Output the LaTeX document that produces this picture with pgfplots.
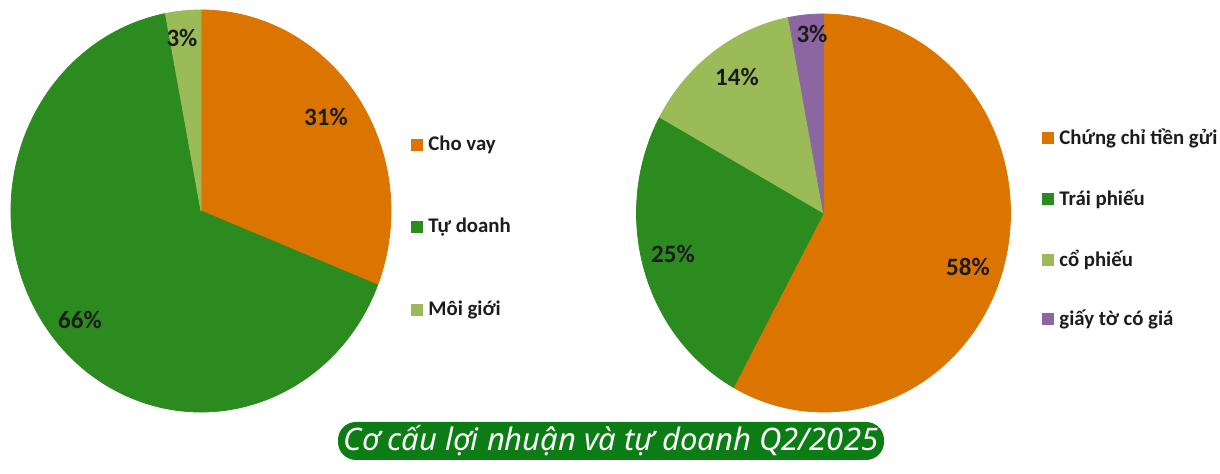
\documentclass[border=0pt]{standalone}
\usepackage{pgfplots}
\pgfplotsset{compat=1.18}
\usepackage{fontspec}
\setmainfont{Carlito}
\newfontfamily\capfont{Noto Sans}

\definecolor{cOr}{RGB}{220,117,0}
\definecolor{cGr}{RGB}{44,139,30}
\definecolor{cLg}{RGB}{155,187,89}
\definecolor{cPu}{RGB}{139,102,160}
\definecolor{capgreen}{RGB}{12,124,20}
\definecolor{txt}{RGB}{28,28,28}

% one point per slice, the wedge is drawn at the pie centre
\pgfplotsset{
  pie slices/.style={
    scatter, only marks, mark=text, text mark={},
    visualization depends on={value \thisrow{s}\as\wS},
    visualization depends on={value \thisrow{p}\as\wP},
    visualization depends on={value \thisrow{rx}\as\wRx},
    visualization depends on={value \thisrow{ry}\as\wRy},
    visualization depends on={value \thisrow{c}\as\wC},
    scatter/@pre marker code/.code={%
      \pgfmathsetmacro\aA{90-3.6*\wS}%
      \pgfmathsetmacro\aB{90-3.6*(\wS+\wP)}%
      \fill[\wC, overlay] (0pt,0pt) -- (\aA:\wRx pt and \wRy pt)
        arc[start angle=\aA, end angle=\aB, x radius=\wRx pt, y radius=\wRy pt] -- cycle;
    },
    scatter/@post marker code/.code={},
  },
  pct labels/.style={
    scatter, only marks, mark=text, text mark={},
    visualization depends on={value \thisrow{l}\as\wT},
    scatter/@pre marker code/.code={%
      \node[font=\bfseries\fontsize{12.5}{14}\selectfont, text=txt] at (0pt,0pt) {\wT\%};
    },
    scatter/@post marker code/.code={},
  },
  legend items/.style={
    scatter, only marks, mark=text, text mark={},
    visualization depends on={value \thisrow{c}\as\wC},
    visualization depends on={value \thisrow{t}\as\wT},
    scatter/@pre marker code/.code={%
      \fill[\wC] (-2.7pt,-2.7pt) rectangle (2.7pt,2.7pt);
      \node[anchor=west, inner sep=0pt, font=\bfseries\fontsize{10.4}{12}\selectfont, text=txt] at (5.5pt,0pt) {\wT};
    },
    scatter/@post marker code/.code={},
  },
}

\begin{document}
\begin{tikzpicture}
\begin{axis}[
  x=0.5pt, y=0.5pt,
  xmin=0, xmax=1220, ymin=0, ymax=474,
  hide axis, clip=false, enlargelimits=false,
]
\path (rel axis cs:0,0) rectangle (rel axis cs:1,1);

% left pie
\addplot[pie slices] table {
x y s p rx ry c
201 263 0 31 95 100.5 cOr
201 263 31 66 95 100.5 cGr
201 263 97 3 95 100.5 cLg
};
% right pie
\addplot[pie slices] table {
x y s p rx ry c
823.5 261 0 58 93.5 99.5 cOr
823.5 261 58 25 93.5 99.5 cGr
823.5 261 83 14 93.5 99.5 cLg
823.5 261 97 3 93.5 99.5 cPu
};

\addplot[pct labels] table {
x y l
326 357 31
80 154 66
182 436 3
968 207 58
673 220 25
737 397 14
812 440 3
};

\addplot[legend items] table[col sep=comma] {
x,y,c,t
417,329,cOr,Cho vay
417,247,cGr,Tự doanh
417,164,cLg,Môi giới
1048,336,cOr,Chứng chỉ tiền gửi
1048,275,cGr,Trái phiếu
1048,214,cLg,cổ phiếu
1048,155,cPu,giấy tờ có giá
};

\node[fill=capgreen, rounded corners=9pt, text=white, minimum width=273pt,
  minimum height=19pt, inner sep=0pt, font=\capfont\itshape\fontsize{15.5}{17}\selectfont]
  at (axis cs:611,33) {Cơ cấu lợi nhuận và tự doanh Q2/2025};
\end{axis}
\end{tikzpicture}
\end{document}
